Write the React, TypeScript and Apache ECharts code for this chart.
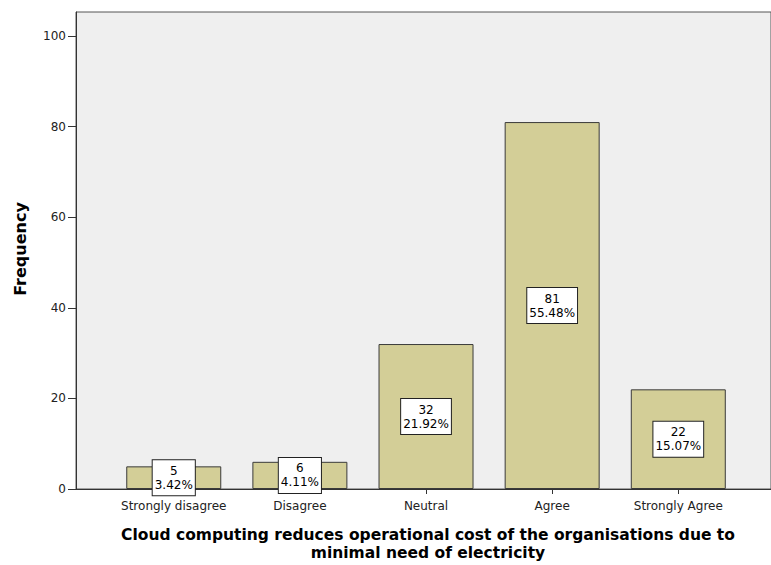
import React, { useEffect, useRef } from "react";
import * as echarts from "echarts";

const categories = ["Strongly disagree", "Disagree", "Neutral", "Agree", "Strongly Agree"];
const frequencies = [5, 6, 32, 81, 22];
const percents = ["3.42%", "4.11%", "21.92%", "55.48%", "15.07%"];
const yTicks = [0, 20, 40, 60, 80, 100];
const xTitleLines = [
  "Cloud computing reduces operational cost of the organisations due to",
  "minimal need of electricity",
];
const yTitle = "Frequency";

export default function App() {
  const ref = useRef<HTMLDivElement>(null);
  useEffect(() => {
    if (!ref.current) return;
    const chart = echarts.init(ref.current, undefined, { renderer: "svg" });
    const idx = categories.map((_, i) => i);
    chart.setOption({
      animation: false,
      backgroundColor: "#ffffff",
      grid: {
        left: 76,
        right: -2,
        top: 12,
        bottom: 76,
        show: true,
        backgroundColor: "#efefef",
        borderColor: "#555555",
        borderWidth: 1,
      },
      xAxis: {
        type: "value",
        min: -0.775,
        max: 4.735,
        splitLine: { show: false },
        axisLine: { show: true, onZero: false, lineStyle: { color: "#333333", width: 1 } },
        axisTick: { show: true, length: 5, customValues: idx, lineStyle: { color: "#333333" } },
        axisLabel: {
          customValues: idx,
          margin: 11,
          color: "#222222",
          fontFamily: "DejaVu Sans",
          fontSize: 12,
          formatter: (v: number) => categories[Math.round(v)] ?? "",
        },
      },
      yAxis: {
        type: "value",
        min: 0,
        max: 105.3,
        splitLine: { show: false },
        axisLine: { show: true, onZero: false, lineStyle: { color: "#333333", width: 1 } },
        axisTick: { show: true, length: 8, customValues: yTicks, lineStyle: { color: "#333333" } },
        axisLabel: {
          customValues: yTicks,
          margin: 10,
          color: "#222222",
          fontFamily: "DejaVu Sans",
          fontSize: 12,
        },
      },
      series: [
        {
          type: "bar",
          barWidth: 95,
          data: frequencies.map((v, i) => [i, v]),
          itemStyle: { color: "#d3ce97", borderColor: "#3a3a3a", borderWidth: 1 },
          label: {
            show: true,
            position: "inside",
            formatter: (p: any) => `${p.value[1]}\n${percents[p.dataIndex]}`,
            color: "#000000",
            fontFamily: "DejaVu Sans",
            fontSize: 12,
            lineHeight: 14,
            align: "center",
            backgroundColor: "#ffffff",
            borderColor: "#222222",
            borderWidth: 1,
            padding: [4, 2, 3, 2],
          },
          z: 3,
        },
      ],
      graphic: [
        ...xTitleLines.map((t, i) => ({
          type: "text",
          x: 428,
          y: 535 + i * 18,
          style: {
            text: t,
            textAlign: "center",
            textVerticalAlign: "middle",
            fontFamily: "DejaVu Sans",
            fontWeight: "bold",
            fontSize: 15.5,
            fill: "#000000",
          },
        })),
        {
          type: "text",
          x: 20,
          y: 249,
          rotation: Math.PI / 2,
          style: {
            text: yTitle,
            textAlign: "center",
            textVerticalAlign: "middle",
            fontFamily: "DejaVu Sans",
            fontWeight: "bold",
            fontSize: 16,
            fill: "#000000",
          },
        },
      ],
    });
    return () => chart.dispose();
  }, []);
  return <div ref={ref} style={{ width: 771, height: 565, position: "absolute", left: 0, top: 0 }} />;
}
